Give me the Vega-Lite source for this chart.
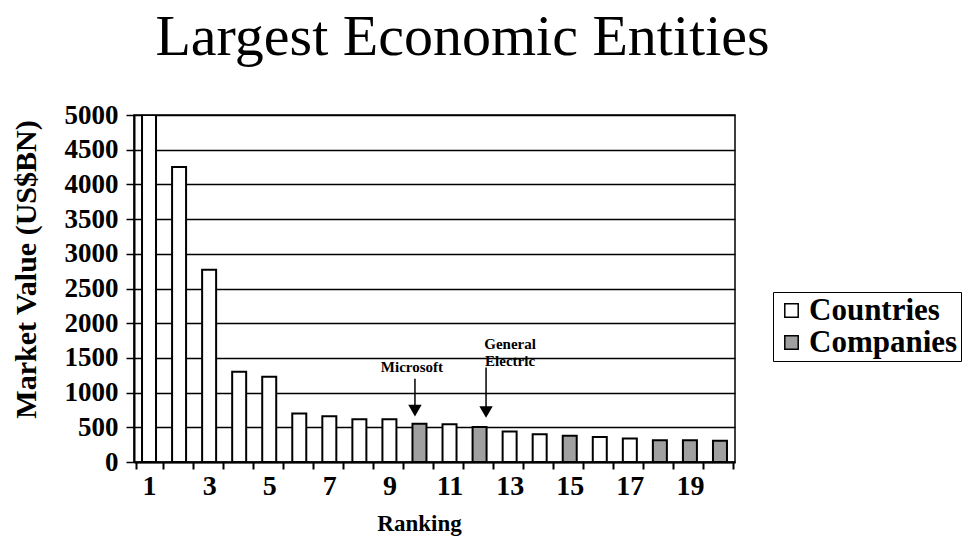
{
  "$schema": "https://vega.github.io/schema/vega-lite/v6.json",
  "width": 601,
  "height": 347,
  "autosize": {"type": "none"},
  "padding": {"left": 134, "top": 115, "right": 228, "bottom": 78},
  "background": "white",
  "title": {
    "text": "Largest Economic Entities",
    "font": "Liberation Serif",
    "fontSize": 58,
    "fontWeight": "normal",
    "color": "black",
    "anchor": "middle",
    "dx": 28,
    "offset": 34
  },
  "config": {
    "view": {"stroke": "black", "strokeWidth": 1.5},
    "font": "Liberation Serif",
    "title": {"font": "Liberation Serif"}
  },
  "datasets": {
    "bars": [
      {"rank": 1, "value": 5000, "type": "Countries"},
      {"rank": 2, "value": 4250, "type": "Countries"},
      {"rank": 3, "value": 2770, "type": "Countries"},
      {"rank": 4, "value": 1300, "type": "Countries"},
      {"rank": 5, "value": 1230, "type": "Countries"},
      {"rank": 6, "value": 700, "type": "Countries"},
      {"rank": 7, "value": 660, "type": "Countries"},
      {"rank": 8, "value": 615, "type": "Countries"},
      {"rank": 9, "value": 615, "type": "Countries"},
      {"rank": 10, "value": 550, "type": "Companies"},
      {"rank": 11, "value": 545, "type": "Countries"},
      {"rank": 12, "value": 505, "type": "Companies"},
      {"rank": 13, "value": 440, "type": "Countries"},
      {"rank": 14, "value": 400, "type": "Countries"},
      {"rank": 15, "value": 380, "type": "Companies"},
      {"rank": 16, "value": 360, "type": "Countries"},
      {"rank": 17, "value": 340, "type": "Countries"},
      {"rank": 18, "value": 315, "type": "Companies"},
      {"rank": 19, "value": 315, "type": "Companies"},
      {"rank": 20, "value": 305, "type": "Companies"}
    ],
    "labels": [
      {"rank": 10, "value": 1370, "label": "Microsoft", "off": 6},
      {"rank": 12, "value": 1700, "label": "General", "off": 44},
      {"rank": 12, "value": 1460, "label": "Electric", "off": 44}
    ],
    "arrows": [
      {"rank": 10, "value": 1200, "bottom": 800, "off": 9},
      {"rank": 12, "value": 1360, "bottom": 780, "off": 20}
    ],
    "tips": [
      {"rank": 10, "value": 740, "off": 9},
      {"rank": 12, "value": 720, "off": 20}
    ]
  },
  "encoding": {
    "x": {
      "field": "rank",
      "type": "ordinal",
      "scale": {"domain": [1,2,3,4,5,6,7,8,9,10,11,12,13,14,15,16,17,18,19,20]},
      "axis": {
        "title": "Ranking",
        "titleFont": "Liberation Serif",
        "titleFontSize": 23,
        "titleFontWeight": "bold",
        "titleColor": "black",
        "titlePadding": 12,
        "titleX": 285,
        "labelFont": "Liberation Serif",
        "labelFontSize": 28,
        "labelFontWeight": "bold",
        "labelColor": "black",
        "labelAngle": 0,
        "labelPadding": 3,
        "labelOverlap": false,
        "labelExpr": "datum.value % 2 == 1 ? datum.label : ''",
        "tickBand": "extent",
        "tickColor": "black",
        "tickSize": 7,
        "tickWidth": 2,
        "domainColor": "black",
        "domainWidth": 2
      }
    },
    "y": {
      "field": "value",
      "type": "quantitative",
      "scale": {"domain": [0, 5000], "nice": false},
      "axis": {
        "title": "Market Value (US$BN)",
        "titleFont": "Liberation Serif",
        "titleFontSize": 30,
        "titleFontWeight": "bold",
        "titleColor": "black",
        "titleX": -108,
        "titleY": 154,
        "titleAlign": "center",
        "titleBaseline": "middle",
        "titleAngle": -90,
        "values": [0,500,1000,1500,2000,2500,3000,3500,4000,4500,5000],
        "format": "d",
        "labelOverlap": false,
        "labelFont": "Liberation Serif",
        "labelFontSize": 27,
        "labelFontWeight": "bold",
        "labelColor": "black",
        "labelPadding": 8,
        "tickColor": "black",
        "tickSize": 8,
        "tickWidth": 1.5,
        "domainColor": "black",
        "domainWidth": 2,
        "grid": true,
        "gridColor": "black",
        "gridWidth": 1.5,
        "gridOpacity": 1
      }
    }
  },
  "layer": [
    {
      "data": {"name": "bars"},
      "mark": {"type": "bar", "width": 14, "stroke": "black", "strokeWidth": 2, "clip": true},
      "encoding": {
        "fill": {
          "field": "type",
          "type": "nominal",
          "scale": {"domain": ["Countries", "Companies"], "range": ["white", "#a0a0a0"]},
          "legend": {
            "title": null,
            "orient": "none",
            "legendX": 639,
            "legendY": 177,
            "padding": 3,
            "strokeColor": "black",
            "fillColor": "white",
            "symbolType": "square",
            "symbolSize": 180,
            "symbolStrokeColor": "black",
            "symbolStrokeWidth": 1.5,
            "labelFont": "Liberation Serif",
            "labelFontSize": 31,
            "labelFontWeight": "bold",
            "labelColor": "black",
            "labelOffset": 2,
            "rowPadding": 0,
            "labelLimit": 300
          }
        }
      }
    },
    {
      "data": {"name": "arrows"},
      "mark": {"type": "rule", "stroke": "black", "strokeWidth": 1.5},
      "encoding": {
        "xOffset": {"field": "off", "type": "quantitative", "scale": {"domain": [-60, 60], "range": [-60, 60]}},
        "y2": {"field": "bottom"}
      }
    },
    {
      "data": {"name": "tips"},
      "mark": {"type": "point", "shape": "triangle-down", "filled": true, "color": "black", "size": 180, "opacity": 1},
      "encoding": {
        "xOffset": {"field": "off", "type": "quantitative", "scale": {"domain": [-60, 60], "range": [-60, 60]}}
      }
    },
    {
      "data": {"name": "labels"},
      "mark": {"type": "text", "font": "Liberation Serif", "fontSize": 15, "fontWeight": "bold", "color": "black", "align": "center", "baseline": "middle"},
      "encoding": {
        "xOffset": {"field": "off", "type": "quantitative", "scale": {"domain": [-60, 60], "range": [-60, 60]}},
        "text": {"field": "label"}
      }
    }
  ]
}
